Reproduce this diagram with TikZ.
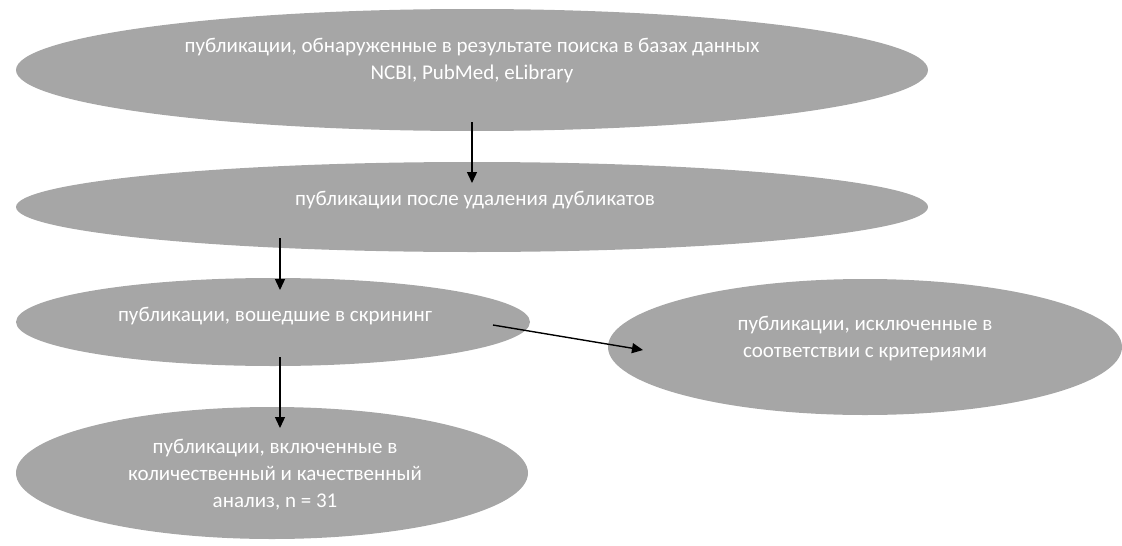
\documentclass[tikz,border=0pt]{standalone}
\usepackage{fontspec}
\setmainfont{Carlito}
\usetikzlibrary{arrows.meta,shapes.geometric,calc}
\definecolor{ellgray}{RGB}{166,166,166}
\tikzset{
  ell/.style={ellipse, fill=ellgray, draw=none, inner sep=0pt},
  txt/.style={text=white, align=center, font=\fontsize{21}{27}\selectfont, inner sep=0pt},
  conn/.style={draw=black, line width=1.4pt, -{Triangle[length=11pt,width=10pt]}}
}
\begin{document}
\begin{tikzpicture}[x=1pt,y=-1pt]
\useasboundingbox (0,0) rectangle (1122,546);
\node[ell, minimum width=912pt, minimum height=122pt] (e1) at (472,70) {};
\node[ell, minimum width=912pt, minimum height=90pt] (e2) at (472,207) {};
\node[ell, minimum width=514pt, minimum height=88pt] (e3) at (273,322) {};
\node[ell, minimum width=514pt, minimum height=136pt] (e4) at (865,347) {};
\node[ell, minimum width=512pt, minimum height=132pt] (e5) at (272,473) {};
\node[txt] (t1) at (472,61) {публикации, обнаруженные в результате поиска в базах данных\\NCBI, PubMed, eLibrary};
\node[txt] (t2) at (475,200) {публикации после удаления дубликатов};
\node[txt] (t3) at (275,316) {публикации, вошедшие в скрининг};
\node[txt] (t4) at (865,339) {публикации, исключенные в\\соответствии с критериями};
\node[txt] (t5) at (275,475) {публикации, включенные в\\количественный и качественный\\анализ, n = 31};
\draw[conn] ($(e1.center)+(0,52)$) -- ($(e2.center)+(0,-24)$);
\draw[conn] ($(e2.center)+(-192,31)$) -- ($(e3.center)+(7,-32)$);
\draw[conn] ($(e3.center)+(220,3)$) -- ($(e4.center)+(-222,3)$);
\draw[conn] ($(e3.center)+(7,35)$) -- ($(e5.center)+(8,-45)$);
\end{tikzpicture}
\end{document}
